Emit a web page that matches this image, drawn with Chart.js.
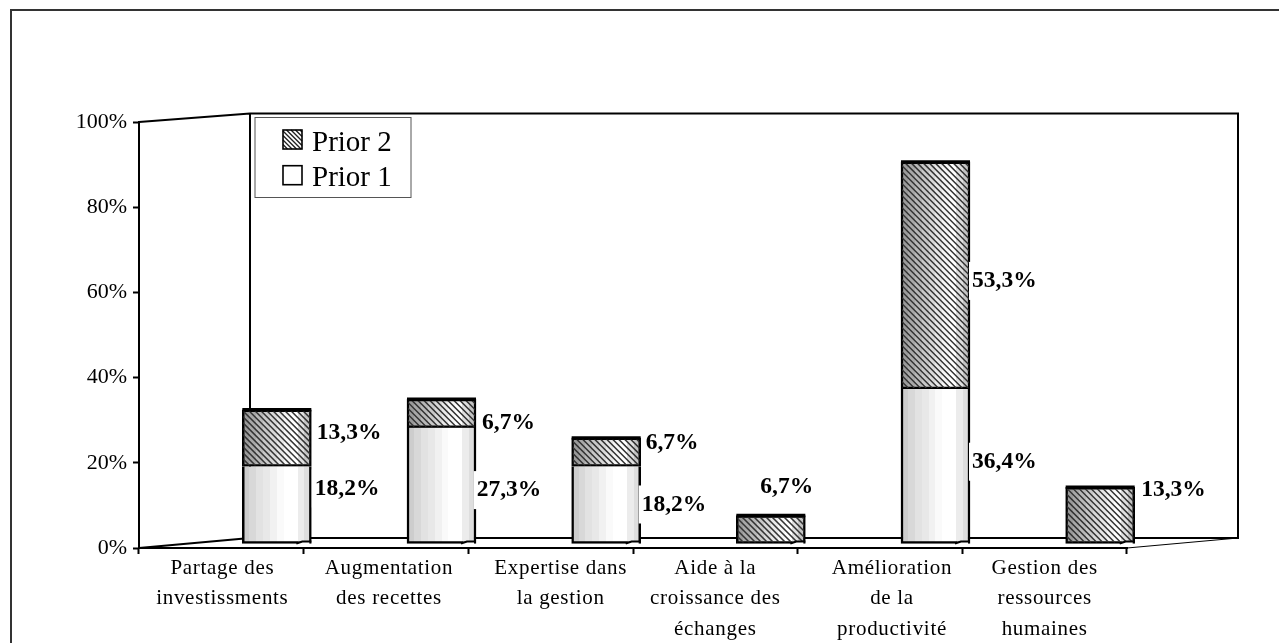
<!DOCTYPE html>
<html>
<head>
<meta charset="utf-8">
<style>
  html, body { margin: 0; padding: 0; background: #fff; overflow: hidden; }
  canvas { display: block; }
</style>
<script src="https://cdn.jsdelivr.net/npm/chart.js@4/dist/chart.umd.min.js"></script>
</head>
<body>
<canvas id="chart" width="1279" height="643"></canvas>
<script>
// Data
const categories = [
  ['Partage des', 'investissments'],
  ['Augmentation', 'des recettes'],
  ['Expertise dans', 'la gestion'],
  ['Aide à la', 'croissance des', 'échanges'],
  ['Amélioration', 'de la', 'productivité'],
  ['Gestion des', 'ressources', 'humaines']
];
const prior1 = [18.2, 27.3, 18.2, null, 36.4, null];
const prior2 = [13.3, 6.7, 6.7, 6.7, 53.3, 13.3];
const yTicks = [0, 20, 40, 60, 80, 100];

// Label nudges, relative to the right edge and middle of each bar piece
const prior1LabelDx = [3.5, 0.7, 1, 0, 2, 0];
const prior1LabelDy = [-16, 5, 0, 0, -4, 0];
const prior2LabelDx = [5.5, 6, 5, -45, 2, 6.5];
const prior2LabelDy = [-4.6, 10, -9, -42, 6, -25];
const categoryLabelDx = [1, 3, 10, 0, 12, 0];

const SERIF = '"Liberation Serif", "Times New Roman", serif';
const BAR_W = 69;
const DEPTH_X = 111;
const DEPTH_Y = 10;
const DEPTH_Y_TOP = 8.5;
const SHIFT_X = 55.5;
const SHIFT_Y = 4;

// Banded fill that fakes the cylinder shading
function bandFill(c, colors) {
  const centre = c.chart.scales.x ? c.chart.scales.x.getPixelForValue(c.dataIndex) : NaN;
  if (!Number.isFinite(centre)) return colors[0];
  const x0 = centre - BAR_W / 2;
  const g = c.chart.ctx.createLinearGradient(x0, 0, x0 + BAR_W, 0);
  colors.forEach((col, i) => {
    g.addColorStop(i / colors.length, col);
    g.addColorStop((i + 1) / colors.length, col);
  });
  return g;
}
const lightBands = ['#cdcdcd', '#d8d8d8', '#e2e2e2', '#e8e8e8', '#f1f1f1', '#fafafa', '#ffffff', '#ffffff', '#ececec', '#dedede'];
const darkBands = ['#9a9a9a', '#a8a8a8', '#b8b8b8', '#c8c8c8', '#d8d8d8', '#e8e8e8', '#f6f6f6', '#ffffff', '#e0e0e0', '#c4c4c4'];

// Back walls and floor of the 3D box, hung off the scales
const wallsPlugin = {
  id: 'walls',
  beforeDatasetsDraw(chart) {
    const { ctx, scales: { x, y } } = chart;
    const l = x.left, r = x.right, b = y.bottom, t = y.top;
    ctx.save();
    ctx.strokeStyle = '#000';
    ctx.lineWidth = 2;
    ctx.beginPath();
    ctx.moveTo(l, t);
    ctx.lineTo(l + DEPTH_X, t - DEPTH_Y_TOP);
    ctx.lineTo(r + DEPTH_X, t - DEPTH_Y_TOP);
    ctx.lineTo(r + DEPTH_X, b - DEPTH_Y);
    ctx.lineTo(l + DEPTH_X, b - DEPTH_Y);
    ctx.lineTo(l + DEPTH_X, t - DEPTH_Y_TOP);
    ctx.moveTo(l, b);
    ctx.lineTo(l + DEPTH_X, b - DEPTH_Y);
    ctx.stroke();
    ctx.lineWidth = 1;
    ctx.beginPath();
    ctx.moveTo(r, b);
    ctx.lineTo(r + DEPTH_X, b - DEPTH_Y);
    ctx.stroke();
    ctx.restore();
    // bars stand halfway into the box
    ctx.save();
    ctx.translate(SHIFT_X, -SHIFT_Y);
  },
  afterDatasetsDraw(chart) {
    const ctx = chart.ctx;
    drawHatch(chart);
    drawRims(chart);
    ctx.restore();
    drawValueLabels(chart);
    drawLegendBox(chart);
    drawCategoryLabels(chart);
    drawFrame(chart);
  }
};

function drawHatch(chart) {
  const ctx = chart.ctx;
  chart.getDatasetMeta(1).data.forEach((bar, i) => {
    if (prior2[i] == null) return;
    const left = bar.x - BAR_W / 2 + 1.2, w = BAR_W - 2.4;
    const top = bar.y + 1, h = bar.base - bar.y - 2;
    ctx.save();
    ctx.beginPath();
    ctx.rect(left, top, w, h);
    ctx.clip();
    ctx.strokeStyle = '#333';
    ctx.lineWidth = 1.5;
    ctx.beginPath();
    for (let s = -h - 12; s < w + 12; s += 6) {
      ctx.moveTo(left + s, top);
      ctx.lineTo(left + s + h, top + h);
    }
    ctx.stroke();
    ctx.restore();
  });
}

// Thick top rim and the small step in the bottom edge
function drawRims(chart) {
  const ctx = chart.ctx;
  ctx.save();
  ctx.strokeStyle = '#000';
  categories.forEach((c, i) => {
    const topBar = chart.getDatasetMeta(1).data[i];
    const baseBar = prior1[i] == null ? topBar : chart.getDatasetMeta(0).data[i];
    const l = topBar.x - BAR_W / 2, r = topBar.x + BAR_W / 2;
    ctx.lineWidth = 3.5;
    ctx.beginPath();
    ctx.moveTo(l, topBar.y);
    ctx.lineTo(r, topBar.y);
    ctx.stroke();
    ctx.fillStyle = '#fff';
    ctx.fillRect(r - 13, baseBar.base - 2, 11, 4);
    ctx.lineWidth = 2;
    ctx.beginPath();
    ctx.moveTo(r - 15, baseBar.base);
    ctx.lineTo(r - 9, baseBar.base - 2);
    ctx.lineTo(r, baseBar.base - 2);
    ctx.stroke();
  });
  ctx.restore();
}

function drawValueLabels(chart) {
  const ctx = chart.ctx;
  const sets = [[prior1, prior1LabelDx, prior1LabelDy], [prior2, prior2LabelDx, prior2LabelDy]];
  ctx.save();
  ctx.font = 'bold 23.5px ' + SERIF;
  ctx.textBaseline = 'middle';
  sets.forEach(([values, dxs, dys], ds) => {
    chart.getDatasetMeta(ds).data.forEach((bar, i) => {
      if (values[i] == null) return;
      const text = values[i].toFixed(1).replace('.', ',') + '%';
      const x = bar.x + SHIFT_X + BAR_W / 2 + dxs[i];
      const y = (bar.y + bar.base) / 2 - 4.5 + dys[i];
      const w = ctx.measureText(text).width;
      ctx.fillStyle = '#fff';
      ctx.fillRect(x - 3, y - 19, w + 6, 38);
      ctx.fillStyle = '#000';
      ctx.fillText(text, x, y);
    });
  });
  ctx.restore();
}

function drawLegendBox(chart) {
  const ctx = chart.ctx;
  const a = chart.chartArea;
  const x0 = a.left + 116, y0 = a.top - 4.5;
  ctx.save();
  ctx.fillStyle = '#fff';
  ctx.strokeStyle = '#555';
  ctx.lineWidth = 1;
  ctx.fillRect(x0, y0, 156, 80);
  ctx.strokeRect(x0, y0, 156, 80);
  ctx.font = '29px ' + SERIF;
  ctx.textBaseline = 'middle';
  [1, 0].forEach((ds, row) => {
    const sy = y0 + 12.5 + row * 35.7;
    ctx.fillStyle = '#fff';
    ctx.fillRect(x0 + 28, sy, 19, 19);
    if (ds === 1) {
      ctx.strokeStyle = '#222';
      ctx.lineWidth = 1.4;
      ctx.beginPath();
      for (let s = -19; s < 19; s += 4.5) {
        const a0 = Math.max(s, 0), a1 = Math.min(s + 19, 19);
        ctx.moveTo(x0 + 28 + a0, sy + a0 - s);
        ctx.lineTo(x0 + 28 + a1, sy + a1 - s);
      }
      ctx.stroke();
    }
    ctx.strokeStyle = '#000';
    ctx.lineWidth = 1.6;
    ctx.strokeRect(x0 + 28, sy, 19, 19);
    ctx.fillStyle = '#000';
    ctx.fillText(chart.data.datasets[ds].label, x0 + 57, sy + 13);
  });
  ctx.restore();
}

// Tick labels come from the scale; each is nudged like the original
function drawCategoryLabels(chart) {
  const ctx = chart.ctx;
  const x = chart.scales.x;
  ctx.save();
  ctx.font = '21px ' + SERIF;
  ctx.letterSpacing = '0.7px';
  ctx.fillStyle = '#000';
  ctx.textAlign = 'center';
  ctx.textBaseline = 'middle';
  x.ticks.forEach((tick, i) => {
    [].concat(tick.label).forEach((line, n) => {
      ctx.fillText(line, x.getPixelForTick(i) + categoryLabelDx[i], x.top + 20 + n * 30.8);
    });
  });
  ctx.restore();
}

function drawFrame(chart) {
  const ctx = chart.ctx;
  ctx.save();
  ctx.strokeStyle = '#333';
  ctx.lineWidth = 2;
  ctx.beginPath();
  ctx.moveTo(11, chart.height);
  ctx.lineTo(11, 10);
  ctx.lineTo(chart.width, 10);
  ctx.stroke();
  ctx.restore();
}

new Chart(document.getElementById('chart'), {
  type: 'bar',
  data: {
    labels: categories,
    datasets: [
      {
        label: 'Prior 1',
        data: prior1,
        backgroundColor: c => bandFill(c, lightBands),
        borderColor: '#000',
        borderWidth: 2.5,
        borderSkipped: 'end',
        barThickness: BAR_W,
        clip: false
      },
      {
        label: 'Prior 2',
        data: prior2,
        backgroundColor: c => bandFill(c, darkBands),
        borderColor: '#000',
        borderWidth: 2.5,
        borderSkipped: false,
        barThickness: BAR_W,
        clip: false
      }
    ]
  },
  options: {
    responsive: false,
    animation: false,
    layout: { padding: { top: 122, right: 152 } },
    plugins: {
      legend: { display: false },
      tooltip: { enabled: false }
    },
    scales: {
      x: {
        stacked: true,
        afterFit(scale) { scale.height = 95; },
        border: { color: '#000', width: 2 },
        grid: { drawOnChartArea: false, tickLength: 6, tickColor: '#000', tickWidth: 2 },
        ticks: { display: false, autoSkip: false, maxRotation: 0 }
      },
      y: {
        stacked: true,
        min: 0,
        max: 100,
        afterFit(scale) { scale.width = 139; },
        afterBuildTicks(scale) { scale.ticks = yTicks.map(v => ({ value: v })); },
        border: { color: '#000', width: 2 },
        grid: { drawOnChartArea: false, tickLength: 6, tickColor: '#000', tickWidth: 2 },
        ticks: {
          font: { family: SERIF, size: 22 },
          color: '#000',
          padding: 6,
          callback: v => v + '%'
        }
      }
    }
  },
  plugins: [wallsPlugin]
});
</script>
</body>
</html>
